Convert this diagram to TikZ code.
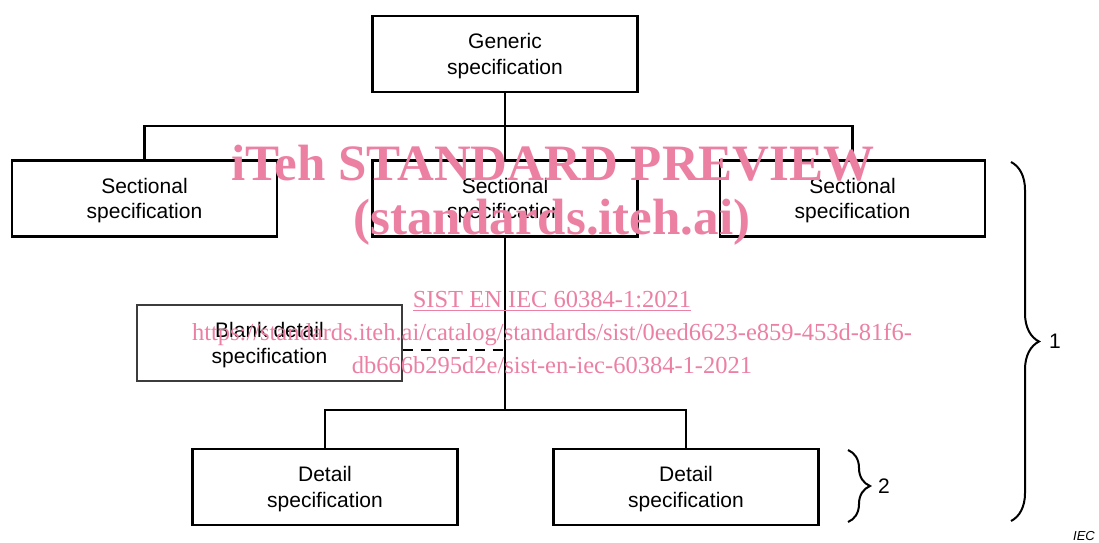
\documentclass[tikz,border=0pt]{standalone}
\usepackage{fontspec}
\setmainfont{Liberation Sans}
\newfontfamily\wmfont{Liberation Serif}
\usetikzlibrary{decorations.pathreplacing}
\definecolor{wmpink}{RGB}{236,128,163}
\definecolor{thinbox}{RGB}{60,60,60}
\newcommand{\twolines}[2]{\raisebox{-2.5pt}[\height][\depth]{\begin{tabular}{@{}c@{}}#1\\#2\end{tabular}}}
\tikzset{
  spec/.style={draw=black, line width=2.6pt, minimum width=265pt, minimum height=76pt, inner sep=0pt, align=center, font=\fontsize{21}{25.5}\selectfont},
  blankspec/.style={spec, draw=thinbox, line width=1.2pt},
  conn/.style={line width=2.3pt},
  dashconn/.style={line width=1.3pt, dash pattern=on 10pt off 8pt},
  bigbrace/.style={line width=2pt, decorate, decoration={brace, amplitude=28pt}},
  smallbrace/.style={line width=2pt, decorate, decoration={brace, amplitude=22pt}},
  lbl/.style={font=\fontsize{21}{26}\selectfont, inner sep=0pt},
  wm/.style={text=wmpink, inner sep=0pt}
}
\begin{document}
\begin{tikzpicture}[x=1pt,y=-1pt]
\useasboundingbox (0,0) rectangle (1099,542);
\node[spec] (gen) at (505,54) {\twolines{Generic}{specification}};
\node[spec] (s1) at (144.5,198.5) {\twolines{Sectional}{specification}};
\node[spec] (s2) at (505,198.5) {\twolines{Sectional}{specification}};
\node[spec] (s3) at (852.5,198.5) {\twolines{Sectional}{specification}};
\node[blankspec] (blank) at (269.5,343) {\twolines{Blank detail}{specification}};
\node[spec] (d1) at (325,487) {\twolines{Detail}{specification}};
\node[spec] (d2) at (686,487) {\twolines{Detail}{specification}};
\coordinate (bar) at (505,126);
\coordinate (low) at (505,410);
\coordinate (dj) at (505,350);
\draw[conn] (gen.south) -- (s2.north);
\draw[conn] (s1.north) |- (bar) -| (s3.north);
\draw[conn] (s2.south) -- (low);
\draw[conn] (d1.north) |- (low) -| (d2.north);
\draw[dashconn] (blank.east |- dj) -- (dj);
\coordinate (b1a) at (1011,162);
\coordinate (b1b) at (1011,521);
\coordinate (b2a) at (848,450);
\coordinate (b2b) at (848,522);
\draw[bigbrace] (b1a) -- (b1b);
\draw[smallbrace] (b2a) -- (b2b);
\node[lbl, anchor=west] (l1) at (1049,341) {1};
\node[lbl, anchor=west] (l2) at (878,486) {2};
\node[font=\fontsize{13}{15}\selectfont\itshape, inner sep=0pt] (iec) at (1084,536) {IEC};
% watermark
\node[wm, font=\wmfont\bfseries\fontsize{51}{55}\selectfont] (wm1) at (553,163) {iTeh STANDARD PREVIEW};
\node[wm, font=\wmfont\bfseries\fontsize{51}{55}\selectfont] (wm2) at (552,222) {(standards.iteh.ai)};
\node[wm, font=\wmfont\fontsize{24.5}{28}\selectfont] (wm3) at (552,301) {\underline{SIST EN IEC 60384-1:2021}};
\node[wm, font=\wmfont\fontsize{24.5}{28}\selectfont] (wm4) at (552,335) {https://standards.iteh.ai/catalog/standards/sist/0eed6623-e859-453d-81f6-};
\node[wm, font=\wmfont\fontsize{24.5}{28}\selectfont] (wm5) at (552,365) {db666b295d2e/sist-en-iec-60384-1-2021};
\end{tikzpicture}
\end{document}
